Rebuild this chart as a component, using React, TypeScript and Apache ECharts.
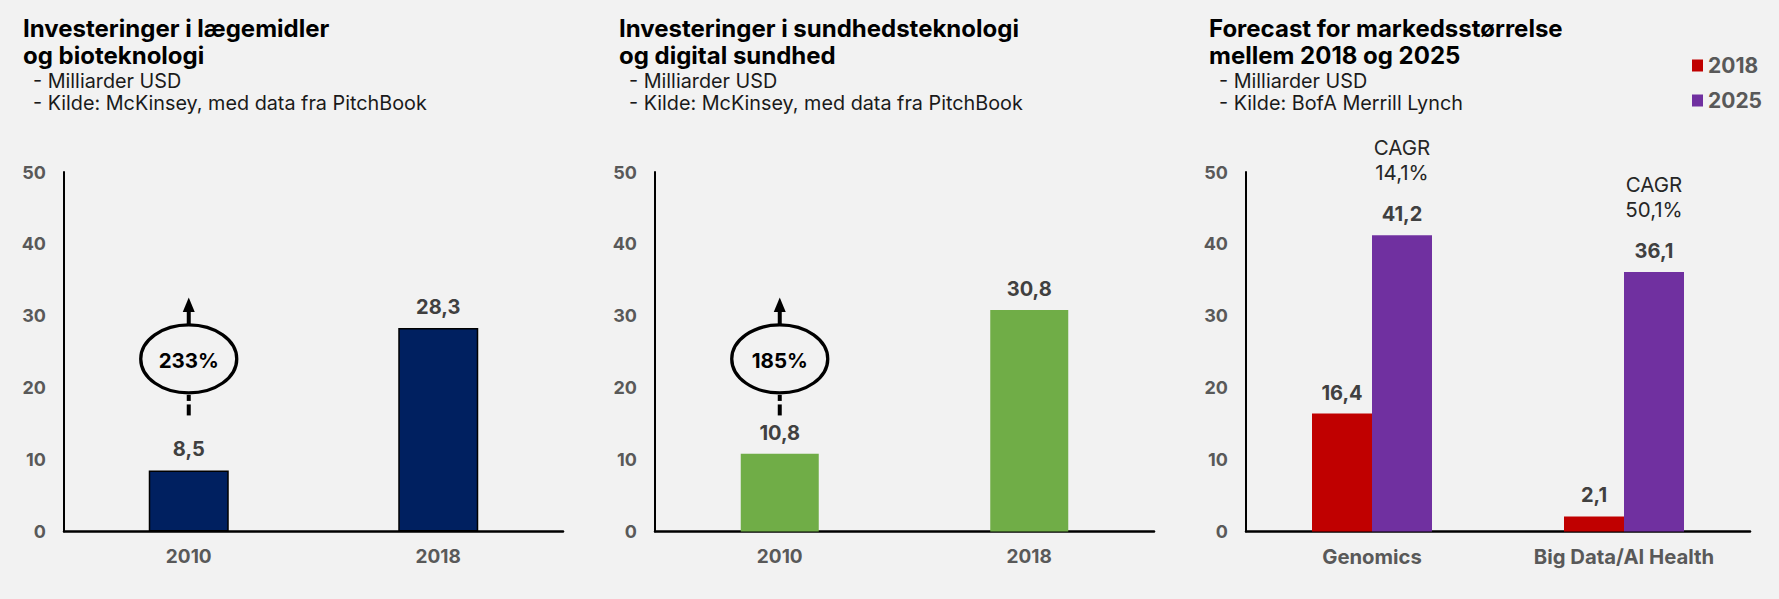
import React, { useEffect, useRef } from 'react';
import * as echarts from 'echarts';

const years = ['2010', '2018'];
const pharmaValues = [8.5, 28.3];
const healthTechValues = [10.8, 30.8];
const marketCategories = ['Genomics', 'Big Data/AI Health'];
const market2018 = [16.4, 2.1];
const market2025 = [41.2, 36.1];
const cagrLabels = ['14,1%', '50,1%'];
const growthLabels = ['233%', '185%'];
const growthAnchor = 24;
const seriesNames = ['2018', '2025'];

const titleTexts = [
  'Investeringer i lægemidler\nog bioteknologi',
  'Investeringer i sundhedsteknologi\nog digital sundhed',
  'Forecast for markedsstørrelse\nmellem 2018 og 2025',
];
const subTexts = [
  '- Milliarder USD\n- Kilde: McKinsey, med data fra PitchBook',
  '- Milliarder USD\n- Kilde: McKinsey, med data fra PitchBook',
  '- Milliarder USD\n- Kilde: BofA Merrill Lynch',
];

const FONT = 'Inter, "Open Sans", sans-serif';
const BG = '#F2F2F2';
const fmt = (v: number) => v.toFixed(1).replace('.', ',');

const titleLefts = [23, 619, 1209];
const gridLefts = [64, 655, 1246];
const gridWidths = [499, 499, 504];
const catFontSizes = [19, 19, 20.3];

function buildOption(): any {
  const titles: any[] = [];
  titleTexts.forEach((t, i) => {
    titles.push({
      text: t, left: titleLefts[i], top: 14.5, padding: 0,
      textStyle: { fontFamily: FONT, fontSize: 24, fontWeight: 'bold', color: '#000', lineHeight: 27.2 },
    });
    titles.push({
      text: subTexts[i], left: titleLefts[i] + 10, top: 70, padding: 0,
      textStyle: { fontFamily: FONT, fontSize: 19.8, fontWeight: 'normal', color: '#1a1a1a', lineHeight: 21.7 },
    });
  });

  const grids = gridLefts.map((l, i) => ({ left: l, top: 172, width: gridWidths[i], height: 359.5 }));
  const cats = [years, years, marketCategories];
  const xAxes = cats.map((c, i) => ({
    type: 'category', gridIndex: i, data: c,
    axisLine: { show: true, lineStyle: { color: '#000', width: 2.5 } },
    axisTick: { show: false },
    axisLabel: { margin: 15, fontFamily: FONT, fontSize: catFontSizes[i], fontWeight: 'bold', color: '#595959' },
  }));
  const yAxes = cats.map((_, i) => ({
    type: 'value', gridIndex: i, min: 0, max: 50, interval: 10,
    axisLine: { show: true, lineStyle: { color: '#000', width: 2 } },
    axisTick: { show: false },
    splitLine: { show: false },
    axisLabel: { margin: 18, fontFamily: FONT, fontSize: 18, fontWeight: 'bold', color: '#595959' },
  }));

  const valueLabel = {
    show: true, position: 'top', distance: 11,
    fontFamily: FONT, fontSize: 20, fontWeight: 'bold', color: '#404040',
    formatter: (p: any) => fmt(p.value),
  };

  const series: any[] = [
    {
      type: 'bar', xAxisIndex: 0, yAxisIndex: 0, data: pharmaValues, barWidth: 80,
      itemStyle: { color: '#002060', borderColor: '#000', borderWidth: 1.5 },
      label: valueLabel,
    },
    {
      type: 'bar', xAxisIndex: 1, yAxisIndex: 1, data: healthTechValues, barWidth: 78,
      itemStyle: { color: '#70AD47' },
      label: valueLabel,
    },
    {
      name: seriesNames[0], type: 'bar', xAxisIndex: 2, yAxisIndex: 2, data: market2018, barWidth: 60, barGap: '0%',
      itemStyle: { color: '#C00000' },
      label: valueLabel,
    },
    {
      name: seriesNames[1], type: 'bar', xAxisIndex: 2, yAxisIndex: 2, data: market2025, barWidth: 60, barGap: '0%',
      itemStyle: { color: '#7030A0' },
      label: {
        show: true, position: 'top', distance: 11,
        formatter: (p: any) => `{c|CAGR}\n{c|${cagrLabels[p.dataIndex]}}\n{s| }\n{v|${fmt(p.value)}}`,
        rich: {
          c: { fontFamily: FONT, fontSize: 20.5, fontWeight: 'normal', color: '#262626', lineHeight: 25 },
          s: { fontSize: 10, lineHeight: 19 },
          v: { fontFamily: FONT, fontSize: 20, fontWeight: 'bold', color: '#404040', lineHeight: 20 },
        },
      },
    },
  ];

  return {
    animation: false,
    backgroundColor: BG,
    title: titles,
    grid: grids,
    xAxis: xAxes,
    yAxis: yAxes,
    legend: {
      data: seriesNames, orient: 'vertical', left: 1692, top: 55, padding: 0,
      itemWidth: 11, itemHeight: 12, itemGap: 14, icon: 'rect', selectedMode: false,
      textStyle: { fontFamily: FONT, fontSize: 21, fontWeight: 'bold', color: '#595959' },
    },
    series,
  };
}

export default function App() {
  const ref = useRef<HTMLDivElement>(null);
  useEffect(() => {
    document.body.style.margin = '0';
    document.body.style.background = BG;
    const chart = echarts.init(ref.current!, null, { renderer: 'svg' });
    chart.setOption(buildOption());
    const graphics: any[] = [];
    growthLabels.forEach((lbl, i) => {
      const pt = chart.convertToPixel({ gridIndex: i } as any, [0, growthAnchor]) as number[];
      const cx = pt[0];
      const cy = pt[1];
      const line = (y1: number, y2: number) => ({
        type: 'line', shape: { x1: cx, y1: cy + y1, x2: cx, y2: cy + y2 },
        style: { stroke: '#000', lineWidth: 4 }, z: 10,
      });
      graphics.push(line(-48, -34));
      graphics.push(line(36, 42));
      graphics.push(line(45.5, 56.5));
      graphics.push({
        type: 'polygon',
        shape: { points: [[cx, cy - 61.5], [cx - 6, cy - 47], [cx + 6, cy - 47]] },
        style: { fill: '#000' }, z: 10,
      });
      graphics.push({
        type: 'ellipse', shape: { cx, cy, rx: 48, ry: 34 },
        style: { fill: BG, stroke: '#000', lineWidth: 3.3 }, z: 11,
      });
      graphics.push({
        type: 'text', x: cx, y: cy + 2, z: 12,
        style: {
          text: lbl, align: 'center', verticalAlign: 'middle',
          fontFamily: FONT, fontSize: 20.5, fontWeight: 'bold', fill: '#000',
        },
      });
    });
    chart.setOption({ graphic: graphics });
    return () => chart.dispose();
  }, []);
  return (
    <div
      ref={ref}
      style={{ position: 'absolute', left: 0, top: 0, width: 1779, height: 599, background: BG }}
    />
  );
}
